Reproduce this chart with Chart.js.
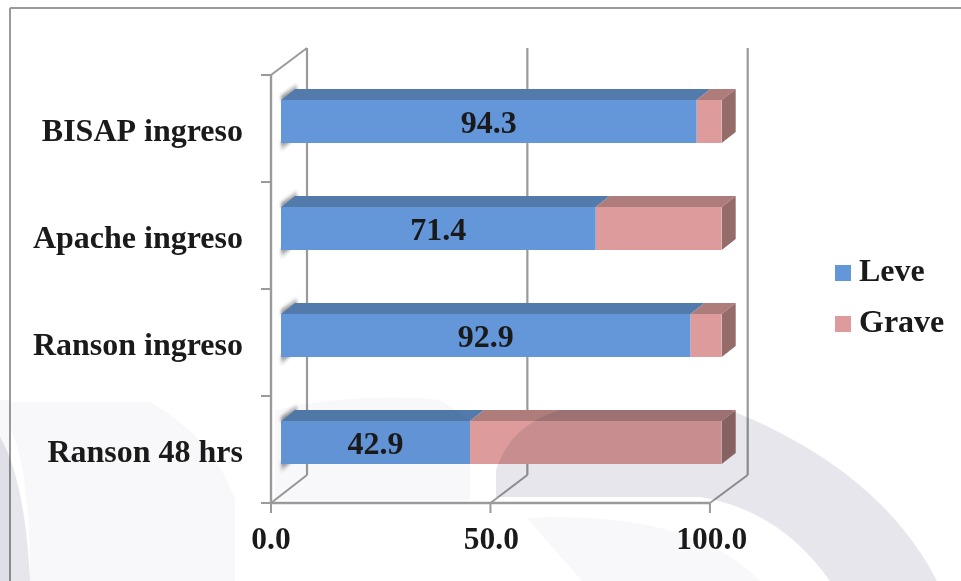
<!DOCTYPE html>
<html><head><meta charset="utf-8">
<style>html,body{margin:0;padding:0;background:#fff}canvas{display:block}</style>
<script src="https://cdn.jsdelivr.net/npm/chart.js@4/dist/chart.umd.min.js"></script>
</head><body>
<canvas id="c" width="961" height="581"></canvas>
<script>
const categories = ['BISAP ingreso', 'Apache ingreso', 'Ranson ingreso', 'Ranson 48 hrs'];
const leve = [94.3, 71.4, 92.9, 42.9];
const grave = [5.7, 28.6, 7.1, 57.1];
const xTicks = [0, 50, 100];
const INK = '#1a1a1a', GRID = '#9a9a9a';
const FONT = 'bold 32px "Liberation Serif"';

function swatch(color){
  const s = document.createElement('canvas'); s.width = 16; s.height = 16;
  const g = s.getContext('2d'); g.fillStyle = color; g.fillRect(0,0,16,16);
  return s;
}
function poly(ctx, pts, fill){
  ctx.beginPath(); pts.forEach((p,i)=> i?ctx.lineTo(p[0],p[1]):ctx.moveTo(p[0],p[1])); ctx.closePath();
  ctx.fillStyle = fill; ctx.fill();
}
function seg(ctx,x1,y1,x2,y2,w){
  ctx.beginPath(); ctx.moveTo(x1,y1); ctx.lineTo(x2,y2); ctx.lineWidth = w||2; ctx.strokeStyle = GRID; ctx.stroke();
}
const frame3d = {
  id:'frame3d',
  afterLayout(chart){
    const lg = chart.legend;
    const dy = 298.5 - (lg.top+lg.bottom)/2;
    lg.top += dy; lg.bottom += dy;
    lg.left = 823; lg.right = lg.left + lg.width;
  },
  beforeDraw(chart){
    const ctx = chart.ctx; ctx.save();
    ctx.fillStyle = '#fff'; ctx.fillRect(0,0,961,581);
    ctx.restore();
  },
  beforeDatasetsDraw(chart){
    const ctx = chart.ctx, xs = chart.scales.x, ys = chart.scales.y;
    ctx.save();
    const top = ys.top, bot = ys.bottom;
    seg(ctx,10,8,961,8,2); seg(ctx,10,8,10,581,2);
    const front = v => 271 + (xs.getPixelForValue(v)-xs.left)*0.996;
    const back = v => xs.getPixelForValue(v)+26;
    const fy0 = top+7, fy1 = bot+7, by0 = top-20, by1 = bot-21;
    xTicks.forEach(v=>{
      seg(ctx,back(v),by0,back(v),by1,2.2);
      seg(ctx,front(v),fy1,back(v),by1,2);
      seg(ctx,front(v),fy1,front(v),fy1+10,2);
    });
    seg(ctx,front(0),fy0,back(0),by0,2);
    seg(ctx,front(0),fy0,front(0),fy1,2.4);
    seg(ctx,front(0)-1,fy1,front(100),fy1,2.4);
    for(let i=0;i<=categories.length;i++){
      const y = fy0 + (fy1-fy0)*i/categories.length;
      seg(ctx,front(0)-10,y,front(0),y,2);
    }
    const mL = chart.getDatasetMeta(0).data, mG = chart.getDatasetMeta(1).data;
    mL.forEach((b,i)=>{
      const g = mG[i], h = b.height/2, t = b.y-h, u = b.y+h, L = b.base, M = b.x, R = g.x;
      const dx = 14, dy = 11;
      ctx.save();
      ctx.filter = 'blur(1.5px)';
      let gr = ctx.createLinearGradient(L+7,t-5,L+3,t-12);
      gr.addColorStop(0,'rgba(125,125,125,.95)'); gr.addColorStop(1,'rgba(210,210,210,0)');
      poly(ctx,[[L,t+1],[L,t-5],[L+dx+2,t-18],[L+dx+2,t-dy+2]],gr);
      gr = ctx.createLinearGradient(L+5,u-2,L+9,u+7);
      gr.addColorStop(0,'rgba(125,125,125,.95)'); gr.addColorStop(1,'rgba(210,210,210,0)');
      poly(ctx,[[L,u-1],[L+dx+2,u-dy-1],[L+dx+2,u-dy+2],[L,u+10]],gr);
      ctx.restore();
      poly(ctx,[[L,t],[M,t],[M+dx,t-dy],[L+dx,t-dy]],'#527bab');
      poly(ctx,[[M,t],[R,t],[R+dx,t-dy],[M+dx,t-dy]],'#ae7d7b');
      poly(ctx,[[R,t],[R+dx,t-dy],[R+dx,u-dy],[R,u]],'#966c6a');
    });
    ctx.restore();
  },
  afterDatasetsDraw(chart){
    const ctx = chart.ctx;
    ctx.save();
    ctx.globalCompositeOperation = 'multiply';
    const pale = '#f8f8fa', mid = '#e6e6ec';
    const shape = (fn,c)=>{ ctx.beginPath(); fn(); ctx.closePath(); ctx.fillStyle=c; ctx.fill(); };
    shape(()=>{ctx.moveTo(11,402);ctx.lineTo(150,402);ctx.quadraticCurveTo(215,440,235,500);ctx.lineTo(235,581);ctx.lineTo(30,581);ctx.quadraticCurveTo(30,470,11,430);},pale);
    shape(()=>{ctx.moveTo(0,400);ctx.lineTo(10,400);ctx.lineTo(10,581);ctx.lineTo(0,581);},pale);
    shape(()=>{ctx.moveTo(0,437);ctx.quadraticCurveTo(25,480,30,581);ctx.lineTo(0,581);},mid);
    shape(()=>{ctx.moveTo(275,500);ctx.lineTo(275,410);ctx.quadraticCurveTo(360,392,440,400);ctx.lineTo(470,420);ctx.lineTo(470,500);},pale);
    shape(()=>{ctx.moveTo(496,497);ctx.lineTo(496,470);ctx.quadraticCurveTo(510,425,560,410);ctx.lineTo(730,410);ctx.quadraticCurveTo(880,470,937,581);ctx.lineTo(830,581);ctx.quadraticCurveTo(780,510,700,497);},mid);
    shape(()=>{ctx.moveTo(527,518);ctx.quadraticCurveTo(690,510,760,581);ctx.lineTo(582,581);},pale);
    ctx.restore();
    ctx.save();
    ctx.font = FONT; ctx.fillStyle = INK; ctx.textAlign = 'center'; ctx.textBaseline = 'middle';
    chart.getDatasetMeta(0).data.forEach((b,i)=>{
      ctx.fillText(leve[i].toFixed(1), (b.base+b.x)/2, b.y+3);
    });
    ctx.restore();
  }
};
new Chart(document.getElementById('c'),{
  type:'bar',
  data:{labels:categories,datasets:[
    {label:'Leve',data:leve,backgroundColor:'#6497da',borderWidth:0,pointStyle:swatch('#6497da')},
    {label:'Grave',data:grave,backgroundColor:'#dd9c9b',borderWidth:0,pointStyle:swatch('#dd9c9b')}
  ]},
  options:{
    indexAxis:'y',responsive:false,animation:false,
    layout:{padding:{left:0,top:68,right:108,bottom:0}},
    datasets:{bar:{categoryPercentage:1,barPercentage:0.4}},
    scales:{
      x:{stacked:true,min:0,max:100,grid:{display:false},border:{display:false},
         afterFit(s){s.height=85;},
         afterBuildTicks(s){s.ticks=xTicks.map(v=>({value:v}));},
         ticks:{font:{family:'"Liberation Serif"',weight:'bold',size:31.5},color:INK,padding:18,labelOffset:-10,maxRotation:0,autoSkip:false,
                callback:v=>Number(v).toFixed(1)}},
      y:{stacked:true,grid:{display:false},border:{display:false},
         afterFit(s){s.width=281;},
         ticks:{font:{family:'"Liberation Serif"',weight:'bold',size:32},color:INK,padding:30,labelOffset:11,autoSkip:false}}
    },
    plugins:{
      tooltip:{enabled:false},
      legend:{position:'right',labels:{
        font:{family:'"Liberation Serif"',weight:'bold',size:32},color:INK,padding:19,
        usePointStyle:true,pointStyleWidth:1,
        generateLabels(chart){
          return chart.data.datasets.map((d,i)=>({text:d.label,pointStyle:d.pointStyle,fillStyle:d.backgroundColor,strokeStyle:d.backgroundColor,lineWidth:0,fontColor:INK,datasetIndex:i,hidden:false}));
        }
      }}
    }
  },
  plugins:[frame3d]
});
</script>
</body></html>
